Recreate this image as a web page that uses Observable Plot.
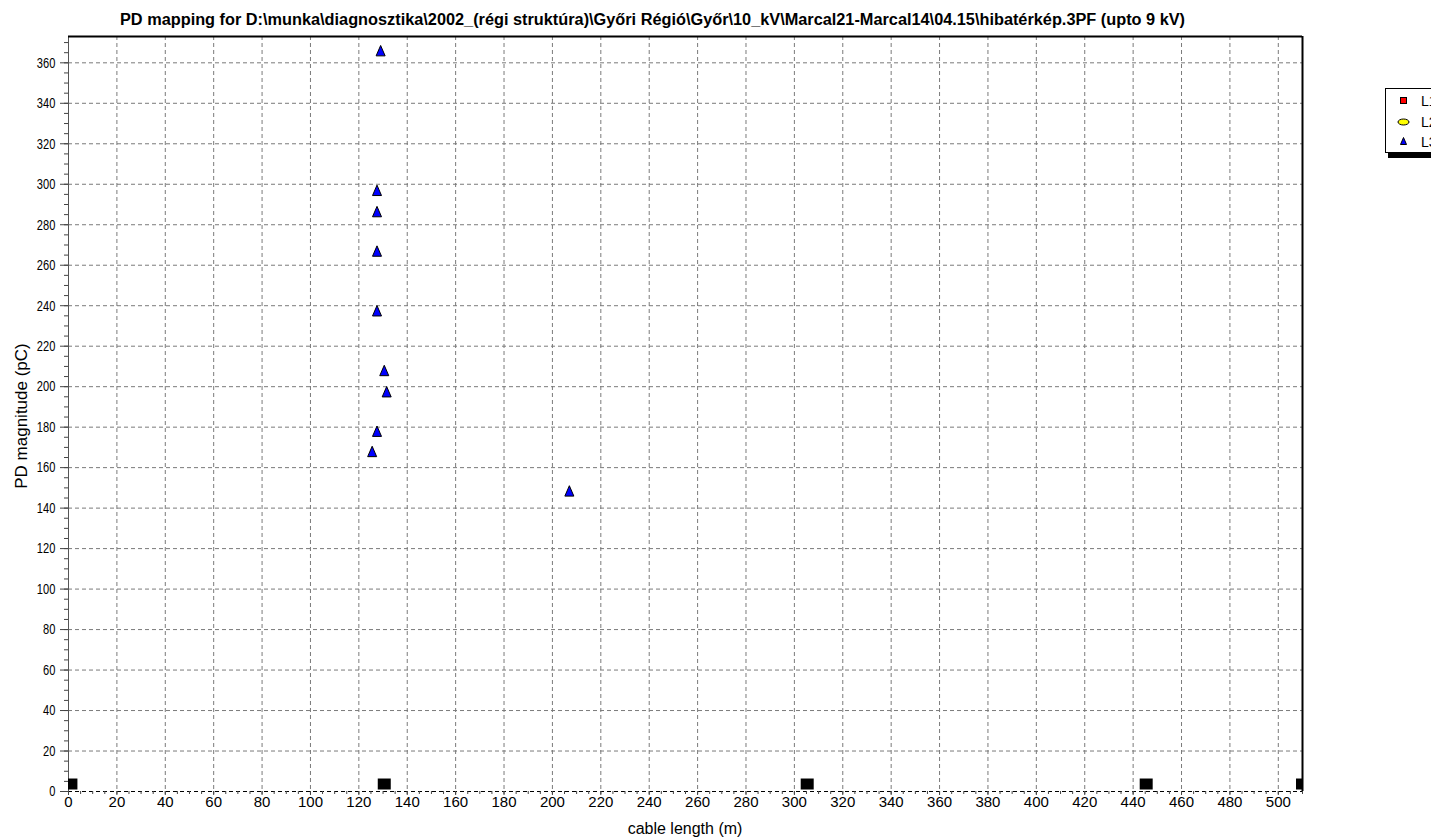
<!DOCTYPE html>
<html>
<head>
<meta charset="utf-8">
<script src="https://cdn.jsdelivr.net/npm/d3@7"></script>
<script src="https://cdn.jsdelivr.net/npm/@observablehq/plot@0.6"></script>
<style>
  html, body { margin: 0; padding: 0; background: #fff; overflow: hidden; width: 1431px; height: 839px; }
  #wrap { position: relative; width: 1431px; height: 839px; overflow: hidden; }
  #title { position: absolute; left: 652px; top: 11px; white-space: nowrap; line-height: 18px;
    font-family: "Liberation Sans", Arial, sans-serif; font-weight: bold; font-size: 16px; color: #000; transform-origin: 0 0; }
  #legend { position: absolute; left: 1385px; top: 88px; width: 80px; height: 63px; border: 1px solid #000;
    background: #fff; box-shadow: 3px 5px 0 #000; font-family: "Liberation Sans", Arial, sans-serif; font-size: 14px; }
  .li { position: absolute; left: 0; width: 80px; height: 16px; line-height: 16px; }
  .li span.t { position: absolute; left: 35px; top: 0; }
  #xlabel { position: absolute; left: 0; width: 1370px; top: 820px; text-align: center; line-height: 18px; font-family: "Liberation Sans", Arial, sans-serif; font-size: 16px; }
  #ylabel { position: absolute; left: 22px; top: 416px; width: 0; height: 0; }
  #ylabel span { position: absolute; left: 0; top: 0; transform: translate(-50%, -50%) rotate(-90deg); white-space: nowrap; line-height: 18px; font-family: "Liberation Sans", Arial, sans-serif; font-size: 17px; }
</style>
</head>
<body>
<div id="wrap">
  <div id="chart"></div>
  <div id="title"></div>
  <div id="xlabel"></div>
  <div id="ylabel"><span></span></div>
  <div id="legend"></div>
</div>
<script>
const titleText = "PD mapping for D:\\munka\\diagnosztika\\2002_(régi struktúra)\\Győri Régió\\Győr\\10_kV\\Marcal21-Marcal14\\04.15\\hibatérkép.3PF (upto 9 kV)";
const xLabel = "cable length (m)";
const yLabel = "PD magnitude (pC)";

// L3 series (blue triangles): cable position (m), PD magnitude (pC)
const l3X = [129, 127.5, 127.5, 127.5, 127.5, 130.5, 131.5, 127.5, 125.5, 207];
const l3Y = [366, 297, 286.5, 267, 237.5, 208, 197.5, 178, 168, 148.5];

// Cable joint / end markers (black squares)
const jointX = [1, 130.5, 305.3, 445.4, 510];
const jointY = [3.7, 3.7, 3.7, 3.7, 3.7];

const legendNames = ["L1", "L2", "L3"];

const xTicks = d3.range(0, 501, 20);
const yTicks = d3.range(0, 361, 20);
const xMinor = d3.range(0, 511, 5);
const yMinor = d3.range(0, 371, 5);
const xMax = 510, yMax = 373;

const tri = l3X.map((x, i) => ({x, y: l3Y[i]}));
const joints = jointX.map((x, i) => ({x, y: jointY[i]}));

// narrow, tall triangle like the original marker
const triSymbol = {draw(ctx) { ctx.moveTo(0, -5.2); ctx.lineTo(4.5, 5.2); ctx.lineTo(-4.5, 5.2); ctx.closePath(); }};
const rectSymbol = {draw(ctx) { ctx.moveTo(-6.5, -5.5); ctx.lineTo(6.5, -5.5); ctx.lineTo(6.5, 5.5); ctx.lineTo(-6.5, 5.5); ctx.closePath(); }};

const font = "Liberation Sans, Arial, sans-serif";
const plot = Plot.plot({
  width: 1431,
  height: 839,
  marginLeft: 68,
  marginRight: 129,
  marginTop: 36,
  marginBottom: 48,
  style: {fontFamily: font, color: "#000", background: "#fff", overflow: "visible"},
  x: {domain: [0, xMax]},
  y: {domain: [0, yMax]},
  marks: [
    Plot.gridX(xTicks.filter(d => d > 0), {stroke: "#7a7a7a", strokeOpacity: 1, strokeDasharray: "4,3"}),
    Plot.gridY(yTicks.filter(d => d > 0), {stroke: "#7a7a7a", strokeOpacity: 1, strokeDasharray: "4,3"}),
    Plot.ruleY([0], {stroke: "#000", strokeDasharray: "4,3"}),
    Plot.ruleX([0], {stroke: "#555"}),
    Plot.ruleY([yMax], {stroke: "#000", strokeWidth: 2}),
    Plot.ruleX([xMax], {stroke: "#000", strokeWidth: 2}),
    Plot.axisX(xMinor, {tickSize: 3, tickFormat: () => "", stroke: "#444", label: null}),
    Plot.axisX(xTicks, {tickSize: 4, tickPadding: 1, stroke: "#444", label: null, fill: "#000", fontSize: 15}),
    Plot.axisY(yMinor, {tickSize: 4, tickFormat: () => "", stroke: "#444", label: null}),
    Plot.axisY(yTicks, {tickSize: 8, tickPadding: 5, stroke: "#444", label: null, fill: "#000", fontSize: 15}),
    Plot.dot(joints, {x: "x", y: "y", symbol: rectSymbol, r: 1, fill: "#000", stroke: "none", clip: true}),
    Plot.dot(tri, {x: "x", y: "y", symbol: triSymbol, r: 1, fill: "#0000ff", stroke: "#000", strokeWidth: 1})
  ]
});
document.getElementById("chart").appendChild(plot);

// y tick labels narrow and tall like the original bitmap font
plot.querySelectorAll("g[aria-label]").forEach(g => {
  const lab = g.getAttribute("aria-label") || "";
  if (/y-axis tick label/.test(lab) && g.textContent.trim() !== "") {
    const x0 = 55;
    const tr = g.getAttribute("transform") || "";
    g.setAttribute("transform", `translate(${x0},0) scale(0.74,1) translate(${-x0},0) ${tr}`);
  }
});

const tEl = document.getElementById("title");
tEl.textContent = titleText;
const tw = tEl.getBoundingClientRect().width;
const targetW = 1065;
tEl.style.left = (652 - targetW / 2) + "px";
tEl.style.transform = `scaleX(${targetW / tw})`;

document.getElementById("xlabel").textContent = xLabel;
document.querySelector("#ylabel span").textContent = yLabel;

const legend = document.getElementById("legend");
const symbols = [
  '<svg width="14" height="16" style="position:absolute;left:10px;top:0"><rect x="4.5" y="4.5" width="6" height="6" fill="#ff0000" stroke="#000"/></svg>',
  '<svg width="16" height="16" style="position:absolute;left:10px;top:0"><ellipse cx="7.5" cy="8" rx="5.5" ry="3" fill="#ffff00" stroke="#000"/></svg>',
  '<svg width="14" height="16" style="position:absolute;left:10px;top:0"><path d="M7.5,3.5 L10.5,10.5 L4.5,10.5 Z" fill="#0000ff" stroke="#000"/></svg>'
];
legendNames.forEach((n, i) => {
  const d = document.createElement("div");
  d.className = "li";
  d.style.top = (4 + i * 20.5) + "px";
  d.innerHTML = symbols[i] + '<span class="t">' + n + '</span>';
  legend.appendChild(d);
});
</script>
</body>
</html>
